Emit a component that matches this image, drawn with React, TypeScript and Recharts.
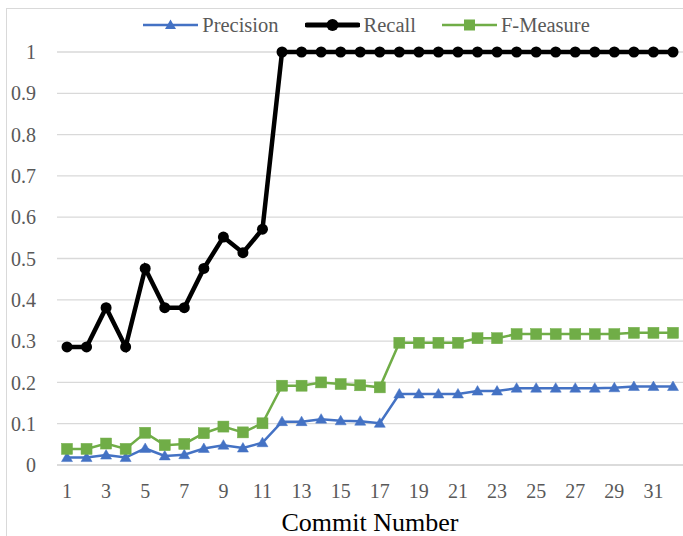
import React from 'react';
import { ComposedChart, Line, XAxis, YAxis, CartesianGrid } from 'recharts';

const commits = Array.from({ length: 32 }, (_, i) => String(i + 1));
const precision = [0.018, 0.018, 0.024, 0.018, 0.04, 0.022, 0.025, 0.04, 0.048, 0.041, 0.054, 0.105, 0.105, 0.111, 0.107, 0.106, 0.101, 0.172, 0.172, 0.172, 0.172, 0.179, 0.179, 0.186, 0.186, 0.186, 0.186, 0.186, 0.187, 0.19, 0.19, 0.19];
const recall = [0.286, 0.286, 0.381, 0.286, 0.476, 0.381, 0.381, 0.476, 0.552, 0.514, 0.571, 1, 1, 1, 1, 1, 1, 1, 1, 1, 1, 1, 1, 1, 1, 1, 1, 1, 1, 1, 1, 1];
const fMeasure = [0.039, 0.039, 0.052, 0.039, 0.078, 0.048, 0.051, 0.077, 0.093, 0.079, 0.101, 0.192, 0.192, 0.2, 0.196, 0.193, 0.188, 0.296, 0.296, 0.296, 0.296, 0.307, 0.307, 0.317, 0.317, 0.317, 0.317, 0.317, 0.317, 0.32, 0.32, 0.32];
const yTicks = [0, 0.1, 0.2, 0.3, 0.4, 0.5, 0.6, 0.7, 0.8, 0.9, 1];

const data = commits.map((c, i) => ({ commit: c, precision: precision[i], recall: recall[i], fMeasure: fMeasure[i] }));

const BLUE = '#4472C4';
const GREEN = '#70AD47';
const FONT = 'Liberation Serif, Times New Roman, DejaVu Serif, Noto Serif, serif';

const Triangle = (props: any) => {
  const { cx, cy } = props;
  if (cx == null || cy == null) return null;
  return <path d={`M${cx},${cy - 5.5} L${cx + 5.5},${cy + 4} L${cx - 5.5},${cy + 4} Z`} fill={BLUE} stroke={BLUE} strokeWidth={0.5} />;
};
const Square = (props: any) => {
  const { cx, cy } = props;
  if (cx == null || cy == null) return null;
  return <rect x={cx - 5.5} y={cy - 5.5} width={11} height={11} fill={GREEN} stroke={GREEN} strokeWidth={0.5} />;
};
const Circle = (props: any) => {
  const { cx, cy } = props;
  if (cx == null || cy == null) return null;
  return <circle cx={cx} cy={cy} r={5.5} fill="#000" />;
};

const LegendItem = ({ kind, label }: { kind: string; label: string }) => (
  <div style={{ display: 'flex', alignItems: 'center', marginRight: 26 }}>
    <svg width={55} height={14} style={{ marginRight: 4 }}>
      {kind === 'p' && (<g><line x1={0} y1={7} x2={55} y2={7} stroke={BLUE} strokeWidth={2.5} /><path d="M27.5,1.5 L33,11 L22,11 Z" fill={BLUE} /></g>)}
      {kind === 'r' && (<g><line x1={2} y1={7} x2={53} y2={7} stroke="#000" strokeWidth={5} strokeLinecap="round" /><circle cx={27.5} cy={7} r={6} fill="#000" /></g>)}
      {kind === 'f' && (<g><line x1={0} y1={7} x2={55} y2={7} stroke={GREEN} strokeWidth={2.5} /><rect x={22} y={1.5} width={11} height={11} fill={GREEN} /></g>)}
    </svg>
    <span style={{ fontFamily: FONT, fontSize: 20.5, color: '#595959', lineHeight: '20px' }}>{label}</span>
  </div>
);

export default function App() {
  return (
    <div style={{ position: 'absolute', left: 0, top: 0, width: 683, height: 536, overflow: 'hidden', background: '#fff', fontFamily: FONT }}>
      <div style={{ position: 'absolute', left: 6, top: 8, width: 800, height: 700, border: '1.5px solid #d9d9d9' }} />
      <div style={{ position: 'absolute', left: 50, top: 15, width: 659, display: 'flex', justifyContent: 'center' }}>
        <LegendItem kind="p" label="Precision" />
        <LegendItem kind="r" label="Recall" />
        <LegendItem kind="f" label="F-Measure" />
      </div>
      <div style={{ position: 'absolute', left: 0, top: 0 }}>
        <ComposedChart width={683} height={536} data={data} margin={{ top: 52, right: 0, bottom: 0, left: 0 }} style={{ fontFamily: FONT }}>
          <CartesianGrid horizontal vertical={false} stroke="#d9d9d9" strokeWidth={1.3} />
          <XAxis
            dataKey="commit"
            interval={1}
            height={71}
            padding={{ left: 10, right: 10 }}
            tickLine={false}
            tickSize={0}
            tickMargin={19}
            axisLine={{ stroke: '#d9d9d9', strokeWidth: 1.3 }}
            tick={{ fill: '#595959', fontSize: 20, fontFamily: FONT }}
            label={{ value: 'Commit Number', position: 'insideBottom', offset: 5, fill: '#000', fontSize: 26, fontFamily: FONT }}
          />
          <YAxis
            domain={[0, 1]}
            ticks={yTicks}
            width={57}
            tickLine={false}
            tickSize={0}
            tickMargin={21}
            axisLine={false}
            tick={{ fill: '#595959', fontSize: 20, fontFamily: FONT }}
          />
          <Line dataKey="precision" stroke={BLUE} strokeWidth={2.5} dot={<Triangle />} isAnimationActive={false} />
          <Line dataKey="recall" stroke="#000" strokeWidth={4.5} dot={<Circle />} isAnimationActive={false} />
          <Line dataKey="fMeasure" stroke={GREEN} strokeWidth={2.5} dot={<Square />} isAnimationActive={false} />
        </ComposedChart>
      </div>
    </div>
  );
}
